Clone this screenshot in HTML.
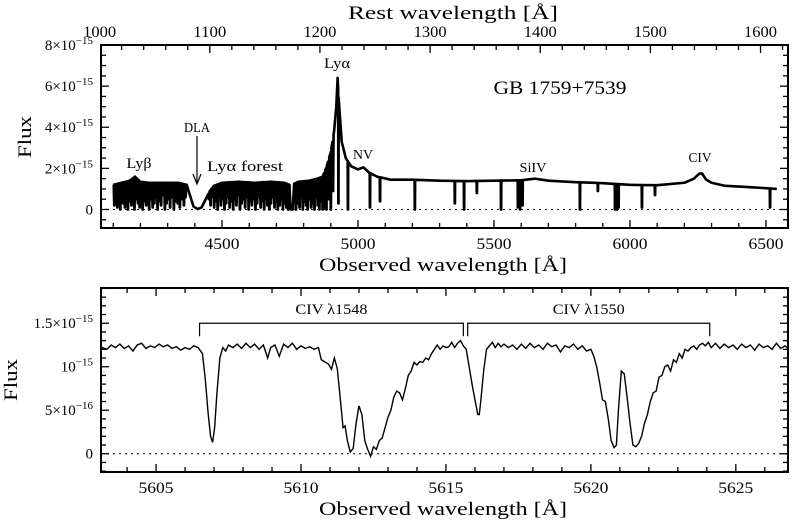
<!DOCTYPE html>
<html><head><meta charset="utf-8"><style>
html,body{margin:0;padding:0;background:#fff;}
svg{display:block;font-family:"Liberation Serif",serif;}
</style></head><body>
<svg id="chart" width="800" height="523" viewBox="0 0 800 523" xmlns="http://www.w3.org/2000/svg">
<g id="topPanel"></g>
<g id="botPanel"></g>
</svg>
<script>
// ---------- TOP PANEL DATA (flux in 1e-15) ----------
const contWl = [4100,4130,4160,4180,4200,4230,4260,4300,4340,4370,4382,4395,4410,4425,4440,4455,4470,4500,4560,4620,4680,4730,4748,4752,4760,4765,4780,4820,4850,4870,4885,4900,4912,4920,4925,4930,4940,4955,4975,5000,5020,5040,5070,5120,5200,5300,5400,5500,5600,5650,5700,5800,5900,6000,6100,6200,6235,6255,6265,6280,6300,6350,6450,6540];
const contFx = [1.2,1.3,1.4,1.6,1.35,1.3,1.3,1.3,1.3,1.2,0.7,0.15,0.02,0.1,0.5,0.9,1.15,1.3,1.35,1.3,1.35,1.3,1.2,0.0,0.0,1.25,1.35,1.4,1.5,1.6,2.1,2.8,3.8,5.0,6.4,5.2,3.3,2.5,2.1,1.95,2.05,1.8,1.6,1.45,1.45,1.4,1.38,1.4,1.42,1.5,1.4,1.33,1.28,1.2,1.18,1.3,1.5,1.75,1.75,1.45,1.3,1.15,1.08,1.0];
const lineWl = [4104,4109,4115,4120,4126,4131,4137,4143,4148,4154,4161,4167,4172,4178,4185,4191,4197,4203,4208,4214,4221,4227,4232,4239,4245,4251,4257,4263,4270,4276,4283,4290,4296,4302,4309,4316,4323,4330,4337,4345,4352,4360,4366,
4452,4458,4465,4471,4477,4484,4490,4496,4503,4509,4515,4522,4528,4534,4541,4547,4553,4560,4566,4572,4579,4585,4591,4598,4604,4610,4617,4623,4629,4636,4642,4648,4655,4661,4667,4674,4680,4686,4693,4699,4705,4712,4718,4724,4731,4737,4743,
4772,4778,4785,4791,4797,4803,4809,4815,4821,4828,4834,4840,4846,4852,4858,4864,4870,4877,4884,4892,4900,4908,4928,4963,5044,5081,5209,5356,5390,5437,5526,5588,5596,5605,5816,5882,5945,5952,5958,6044,6092,6515];
const lineMin = [0.2,0.6,0.1,0.5,0.0,0.7,0.3,0.1,0.6,0.0,0.4,0.2,0.8,0.0,0.5,0.3,0.1,0.6,0.0,0.4,0.2,0.7,0.0,0.5,0.1,0.3,0.6,0.0,0.4,0.2,0.7,0.0,0.3,0.5,0.1,0.6,0.0,0.4,0.3,0.1,0.5,0.2,0.6,
0.5,0.2,0.6,0.1,0.4,0.0,0.7,0.2,0.5,0.0,0.3,0.6,0.1,0.4,0.0,0.5,0.2,0.7,0.0,0.3,0.5,0.1,0.6,0.0,0.4,0.2,0.5,0.0,0.3,0.6,0.1,0.4,0.0,0.5,0.2,0.0,0.3,0.6,0.1,0.4,0.0,0.2,0.5,0.0,0.3,0.1,0.0,
0.0,0.3,0.1,0.6,0.0,0.4,0.2,0.0,0.5,0.1,0.3,0.0,0.6,0.2,0.0,0.4,0.0,0.1,0.0,0.5,0.0,0.9,0.3,0.0,0.1,0.4,0.0,0.3,0.0,0.8,0.0,0.1,0.0,0.2,0.0,0.9,0.0,0.0,0.1,0.1,0.7,0.1];
const topXTicks = [4500,5000,5500,6000,6500];
const topRestTicks = [1000,1100,1200,1300,1400,1500,1600];
const topYTicks = [0,2,4,6,8];
const topYLabels = ["0","2×10","4×10","6×10","8×10"];

// ---------- BOTTOM PANEL DATA (flux in 1e-15) ----------
const botWl = [5603.0,5603.15,5603.3,5603.45,5603.6,5603.75,5603.9,5604.05,5604.2,5604.35,5604.5,5604.65,5604.8,5604.95,5605.1,5605.25,5605.4,5605.55,5605.7,5605.85,5606.0,5606.15,5606.3,5606.45,5606.6,5606.7,5606.8,5606.88,5606.95,5607.02,5607.1,5607.2,5607.3,5607.4,5607.5,5607.65,5607.8,5607.95,5608.1,5608.25,5608.4,5608.55,5608.7,5608.85,5608.95,5609.1,5609.25,5609.4,5609.55,5609.7,5609.85,5610.0,5610.15,5610.3,5610.45,5610.6,5610.7,5610.85,5610.95,5611.05,5611.15,5611.25,5611.35,5611.45,5611.52,5611.6,5611.7,5611.8,5611.9,5612.0,5612.1,5612.2,5612.3,5612.4,5612.5,5612.6,5612.7,5612.8,5612.9,5613.0,5613.1,5613.2,5613.3,5613.4,5613.5,5613.6,5613.7,5613.8,5613.9,5614.0,5614.1,5614.2,5614.3,5614.4,5614.5,5614.6,5614.7,5614.8,5614.9,5615.0,5615.1,5615.2,5615.3,5615.4,5615.5,5615.6,5615.7,5615.8,5615.9,5616.0,5616.1,5616.15,5616.2,5616.3,5616.4,5616.5,5616.6,5616.7,5616.8,5616.9,5617.0,5617.15,5617.3,5617.45,5617.6,5617.75,5617.9,5618.05,5618.2,5618.35,5618.5,5618.65,5618.8,5618.95,5619.1,5619.25,5619.4,5619.55,5619.7,5619.85,5620.0,5620.1,5620.2,5620.3,5620.4,5620.5,5620.6,5620.7,5620.8,5620.88,5620.95,5621.05,5621.15,5621.25,5621.35,5621.45,5621.55,5621.65,5621.75,5621.85,5621.95,5622.05,5622.15,5622.25,5622.35,5622.45,5622.55,5622.65,5622.75,5622.85,5622.95,5623.05,5623.15,5623.25,5623.35,5623.45,5623.55,5623.65,5623.75,5623.85,5623.95,5624.05,5624.15,5624.3,5624.45,5624.6,5624.75,5624.9,5625.05,5625.2,5625.35,5625.5,5625.65,5625.8,5625.95,5626.1,5626.25,5626.4,5626.55,5626.7,5626.85,5627.0];
const botFx = [1.15,1.22,1.2,1.25,1.22,1.26,1.21,1.24,1.18,1.25,1.27,1.21,1.24,1.22,1.26,1.23,1.25,1.21,1.23,1.19,1.22,1.2,1.24,1.22,1.15,0.85,0.45,0.2,0.13,0.3,0.7,1.1,1.22,1.18,1.25,1.22,1.26,1.21,1.27,1.22,1.26,1.2,1.25,1.1,1.22,1.25,1.12,1.26,1.22,1.27,1.2,1.24,1.21,1.23,1.2,1.22,1.08,1.05,1.03,0.97,1.1,0.98,0.65,0.3,0.32,0.15,0.02,0.06,0.35,0.55,0.45,0.15,0.05,-0.03,0.08,0.05,0.15,0.18,0.3,0.42,0.5,0.65,0.72,0.7,0.62,0.75,0.9,0.95,1.05,1.02,1.06,1.05,1.1,1.08,1.15,1.2,1.25,1.2,1.24,1.22,1.23,1.28,1.22,1.27,1.3,1.24,1.2,1.0,0.8,0.62,0.45,0.45,0.6,0.95,1.2,1.24,1.28,1.22,1.27,1.23,1.26,1.22,1.25,1.2,1.26,1.21,1.27,1.22,1.25,1.2,1.27,1.23,1.25,1.17,1.24,1.22,1.26,1.2,1.24,1.18,1.2,1.12,1.0,0.82,0.62,0.6,0.4,0.15,0.07,0.1,0.5,0.95,0.92,0.65,0.35,0.1,0.08,0.12,0.2,0.35,0.45,0.6,0.7,0.72,0.88,0.9,1.0,1.02,0.95,1.08,1.05,1.15,1.1,1.2,1.18,1.22,1.24,1.2,1.25,1.27,1.24,1.28,1.22,1.27,1.21,1.26,1.22,1.25,1.2,1.26,1.22,1.25,1.19,1.26,1.22,1.24,1.2,1.27,1.21,1.24,1.2,1.22];
const botXTicks = [5605,5610,5615,5620,5625];
const botYTicks = [0,0.5,1.0,1.5];
const botYBase = ["0","5×10","10","1.5×10"];
const botYExp = ["","−16","−15","−15"];
const doubletA = [5606.5, 5615.6];
const doubletB = [5615.75, 5624.1];
const doubletNames = ["CIV λ1548","CIV λ1550"];

const NS="http://www.w3.org/2000/svg";
function mk(parent,tag,attrs,text){const e=document.createElementNS(NS,tag);for(const k in attrs)e.setAttribute(k,attrs[k]);if(text!==undefined)e.textContent=text;parent.appendChild(e);return e;}
function label(p,x,y,txt,name,size,anchor,len){const a={x:x,y:y,'text-anchor':anchor||'middle','font-size':size||14};
 if(len){a.textLength=len;a.lengthAdjust='spacingAndGlyphs';}
 const t=mk(p,'text',a,txt);
 
 
 return t;}

// ---- TOP ----
const T={x0:101,x1:788,y0:45,y1:228,wmin:4055,wmax:6581,fmin:-0.9,fmax:8,z1:4.05};
const tx=w=>T.x0+(w-T.wmin)/(T.wmax-T.wmin)*(T.x1-T.x0);
const ty=f=>T.y1-(f-T.fmin)/(T.fmax-T.fmin)*(T.y1-T.y0);
const topG=document.getElementById('topPanel');
function contAt(w){for(let i=0;i<contWl.length-1;i++){if(w>=contWl[i]&&w<=contWl[i+1]){const t=(w-contWl[i])/(contWl[i+1]-contWl[i]);return contFx[i]+t*(contFx[i+1]-contFx[i]);}}return contFx[contFx.length-1];}
let pts=contWl.map((w,i)=>[w,contFx[i]]);
lineWl.forEach((w,i)=>{const m=(lineMin[i]!==undefined)?lineMin[i]:0;const hw=(w<4920)?2.2:1.0;pts.push([w-hw,contAt(w-hw)]);pts.push([w-0.4,m]);pts.push([w+0.4,m]);pts.push([w+hw,contAt(w+hw)]);});
pts.sort((a,b)=>a[0]-b[0]);
const zl=mk(topG,'line',{x1:T.x0,x2:T.x1,y1:ty(0),y2:ty(0),stroke:'#000','stroke-width':1,'stroke-dasharray':'2,4'});


const tp=mk(topG,'path',{d:'M'+pts.map(p=>tx(p[0]).toFixed(2)+','+ty(p[1]).toFixed(2)).join('L'),fill:'none',stroke:'#000','stroke-width':2.6,'stroke-linejoin':'round'});


const tf=mk(topG,'rect',{x:T.x0,y:T.y0,width:T.x1-T.x0,height:T.y1-T.y0,fill:'none',stroke:'#000','stroke-width':2});


for(let w=4100;w<=6500;w+=100){const L=(w%500===0)?8:5;
 mk(topG,'line',{x1:tx(w),x2:tx(w),y1:T.y1,y2:T.y1-L,stroke:'#000','stroke-width':1.3});}
topXTicks.forEach(w=>{label(topG,tx(w),T.y1+21,String(w),'top-x-tick-label',16,'middle',35);});
for(let r=1000;r<=1620;r+=20){const w=r*T.z1;if(w<T.wmin||w>T.wmax)continue;const L=(r%100===0)?8:5;
 mk(topG,'line',{x1:tx(w),x2:tx(w),y1:T.y0,y2:T.y0+L,stroke:'#000','stroke-width':1.3});}
topRestTicks.forEach(r=>{label(topG,tx(r*T.z1),T.y0-8,String(r),'rest-tick-label',16,'middle',33);});
for(let k=-1;k<=16;k++){const f=k/2;const L=(k%4===0)?8:5;
 mk(topG,'line',{x1:T.x0,x2:T.x0+L,y1:ty(f),y2:ty(f),stroke:'#000','stroke-width':1.3});
 mk(topG,'line',{x1:T.x1,x2:T.x1-L,y1:ty(f),y2:ty(f),stroke:'#000','stroke-width':1.3});}
topYTicks.forEach((f,i)=>{const t=label(topG,T.x0-8,ty(f)+5,topYLabels[i],'top-y-tick-label',15,'end');
 if(f!==0)mk(t,'tspan',{dy:-6,'font-size':11},'−15');});
label(topG,453,19,'Rest wavelength [Å]','top-axis-title',19,'middle',210);
label(topG,443,271,'Observed wavelength [Å]','top-x-axis-title',19,'middle',248);
const fy=label(topG,0,0,'Flux','top-y-axis-title',19,'middle',42);fy.setAttribute('transform','translate(31,137) rotate(-90)');
label(topG,337,68,'Lyα','lya-label',15,'middle',26);
label(topG,363,159,'NV','nv-label',14,'middle',20);
label(topG,139,168,'Lyβ','lyb-label',15,'middle',25);
label(topG,197,132,'DLA','dla-label',14,'middle',26);
label(topG,245,171,'Lyα forest','lya-forest-label',15,'middle',76);
label(topG,533,172,'SiIV','siiv-label',14,'middle',27);
label(topG,700,162,'CIV','civ-label',14,'middle',23);
label(topG,560,94,'GB 1759+7539','object-name',19,'middle',133);
const ar=mk(topG,'path',{d:'M197,136 L197,183 M193,174 L197,184 L201,174',fill:'none',stroke:'#000','stroke-width':1.2});



// ---- BOTTOM ----
const B={x0:101,x1:788,y0:288,y1:472,wmin:5603.1,wmax:5626.8,fmin:-0.21,fmax:1.905};
const bx=w=>B.x0+(w-B.wmin)/(B.wmax-B.wmin)*(B.x1-B.x0);
const by=f=>B.y1-(f-B.fmin)/(B.fmax-B.fmin)*(B.y1-B.y0);
const botG=document.getElementById('botPanel');
const cp=mk(botG,'clipPath',{id:'bclip'});mk(cp,'rect',{x:B.x0,y:B.y0,width:B.x1-B.x0,height:B.y1-B.y0});
const bz=mk(botG,'line',{x1:B.x0,x2:B.x1,y1:by(0),y2:by(0),stroke:'#000','stroke-width':1,'stroke-dasharray':'2,4'});


const bp=mk(botG,'path',{d:'M'+botWl.map((w,i)=>bx(w).toFixed(2)+','+by(botFx[i]).toFixed(2)).join('L'),fill:'none',stroke:'#000','stroke-width':1.4,'clip-path':'url(#bclip)'});


const bf=mk(botG,'rect',{x:B.x0,y:B.y0,width:B.x1-B.x0,height:B.y1-B.y0,fill:'none',stroke:'#000','stroke-width':2});


for(let w=5604;w<=5626;w+=1){const L=(w%5===0)?8:5;
 mk(botG,'line',{x1:bx(w),x2:bx(w),y1:B.y1,y2:B.y1-L,stroke:'#000','stroke-width':1.3});
 mk(botG,'line',{x1:bx(w),x2:bx(w),y1:B.y0,y2:B.y0+L,stroke:'#000','stroke-width':1.3});}
botXTicks.forEach(w=>{label(botG,bx(w),B.y1+21,String(w),'bottom-x-tick-label',16,'middle',35);});
for(let k=-2;k<=19;k++){const f=k/10;const L=(k%5===0)?8:5;
 mk(botG,'line',{x1:B.x0,x2:B.x0+L,y1:by(f),y2:by(f),stroke:'#000','stroke-width':1.3});
 mk(botG,'line',{x1:B.x1,x2:B.x1-L,y1:by(f),y2:by(f),stroke:'#000','stroke-width':1.3});}
botYTicks.forEach((f,i)=>{const t=label(botG,B.x0-8,by(f)+5,botYBase[i],'bottom-y-tick-label',15,'end');
 if(botYExp[i])mk(t,'tspan',{dy:-6,'font-size':11},botYExp[i]);});
label(botG,443,515,'Observed wavelength [Å]','bottom-x-axis-title',19,'middle',248);
const fy2=label(botG,0,0,'Flux','bottom-y-axis-title',19,'middle',42);fy2.setAttribute('transform','translate(17,380) rotate(-90)');
const yb=by(1.5), ye=by(1.35);
[doubletA,doubletB].forEach((d,i)=>{
 const br=mk(botG,'path',{d:`M${bx(d[0])},${ye} L${bx(d[0])},${yb} L${bx(d[1])},${yb} L${bx(d[1])},${ye}`,fill:'none',stroke:'#000','stroke-width':1.2});
 
 
 label(botG,(bx(d[0])+bx(d[1]))/2,yb-9,doubletNames[i],'doublet-label',15,'middle',72);
});
</script>
</body></html>
